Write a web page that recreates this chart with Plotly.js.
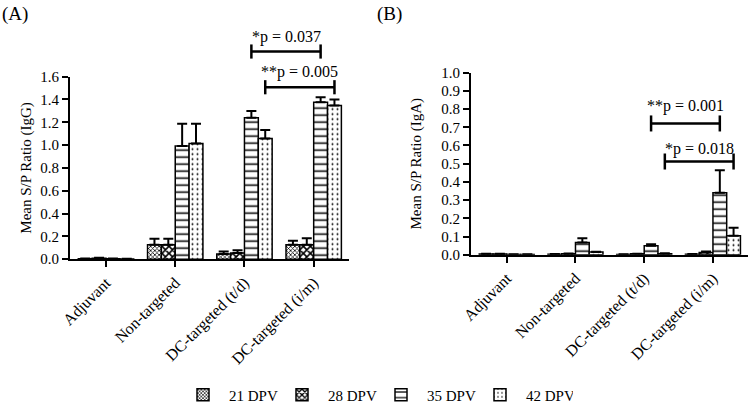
<!DOCTYPE html>
<html>
<head>
<meta charset="utf-8">
<script src="https://cdn.plot.ly/plotly-3.0.1.min.js"></script>
<style>html,body{margin:0;padding:0;background:#fff;}#chart{width:750px;height:412px;}</style>
</head>
<body>
<div id="chart"></div>
<script>
// ---- data ----
const categories = ['Adjuvant', 'Non-targeted', 'DC-targeted (t/d)', 'DC-targeted (i/m)'];
const seriesNames = ['21 DPV', '28 DPV', '35 DPV', '42 DPV'];

// Panel A: IgG mean S/P ratio and upper error (SEM)
const igg21 = [0.004, 0.127, 0.045, 0.127];
const igg28 = [0.008, 0.127, 0.055, 0.127];
const igg35 = [0.004, 0.992, 1.240, 1.376];
const igg42 = [0.003, 1.013, 1.057, 1.347];
const igg21Err = [0.002, 0.053, 0.023, 0.035];
const igg28Err = [0.004, 0.053, 0.023, 0.058];
const igg35Err = [0.002, 0.196, 0.058, 0.044];
const igg42Err = [0.001, 0.175, 0.076, 0.053];

// Panel B: IgA mean S/P ratio and upper error (SEM)
const iga21 = [0.004, 0.003, 0.002, 0.003];
const iga28 = [0.004, 0.006, 0.005, 0.012];
const iga35 = [0.002, 0.068, 0.050, 0.340];
const iga42 = [0.002, 0.015, 0.006, 0.105];
const iga21Err = [0.001, 0.001, 0.001, 0.001];
const iga28Err = [0.001, 0.001, 0.001, 0.006];
const iga35Err = [0.001, 0.022, 0.008, 0.124];
const iga42Err = [0.001, 0.002, 0.002, 0.043];

// significance brackets: category positions (index + bar offset), height and label height in data units
const bracketLabelsA = ['*p = 0.037', '**p = 0.005'];
const bracketX0A = [2.1, 2.3];
const bracketX1A = [3.1, 3.3];
const bracketYA = [1.82, 1.507];
const bracketTextYA = [1.951, 1.637];

const bracketLabelsB = ['**p = 0.001', '*p = 0.018'];
const bracketX0B = [2.1, 2.3];
const bracketX1B = [3.1, 3.3];
const bracketYB = [0.721, 0.512];
const bracketTextYB = [0.816, 0.579];

// ---- styles ----
const FONT = 'Liberation Serif, Times New Roman, serif';
const patterns = [
  {shape: 'x', size: 3, solidity: 0.45},
  {shape: 'x', size: 5, solidity: 0.55},
  {shape: '-', size: 7, solidity: 0.22},
  {shape: '.', size: 5, solidity: 0.12}
];
const catIdx = categories.map((c, i) => i);

function makeTrace(vals, errs, k, xa, ya, showleg) {
  return {
    type: 'bar',
    x: catIdx,
    y: vals,
    name: seriesNames[k],
    legendgroup: seriesNames[k],
    showlegend: showleg,
    xaxis: xa,
    yaxis: ya,
    marker: {
      color: 'white',
      line: {color: 'black', width: 1.5},
      pattern: Object.assign({fgcolor: 'black', bgcolor: 'white', fillmode: 'replace'}, patterns[k])
    },
    error_y: {
      type: 'data', symmetric: false, array: errs, arrayminus: vals.map(() => 0),
      color: 'black', thickness: 2, width: 5
    },
    hoverinfo: 'skip'
  };
}

const dataA = [[igg21, igg21Err], [igg28, igg28Err], [igg35, igg35Err], [igg42, igg42Err]];
const dataB = [[iga21, iga21Err], [iga28, iga28Err], [iga35, iga35Err], [iga42, iga42Err]];
const traces = [];
dataA.forEach((d, k) => traces.push(makeTrace(d[0], d[1], k, 'x', 'y', true)));
dataB.forEach((d, k) => traces.push(makeTrace(d[0], d[1], k, 'x2', 'y2', false)));

const W = 750, H = 412;
const shapes = [];
const annotations = [];
function addBrackets(xref, yref, ymax, x0s, x1s, ys, tys, labels, tickHalf) {
  labels.forEach((lab, i) => {
    const y = ys[i] / ymax, t = tickHalf / ymax;
    const line = {color: 'black', width: 2.5};
    shapes.push({type: 'line', xref: xref, yref: yref + ' domain', x0: x0s[i], x1: x1s[i], y0: y, y1: y, line: line});
    shapes.push({type: 'line', xref: xref, yref: yref + ' domain', x0: x0s[i], x1: x0s[i], y0: y - t, y1: y + t, line: line});
    shapes.push({type: 'line', xref: xref, yref: yref + ' domain', x0: x1s[i], x1: x1s[i], y0: y - t, y1: y + t, line: line});
    annotations.push({
      xref: xref, yref: yref + ' domain', x: (x0s[i] + x1s[i]) / 2, y: tys[i] / ymax,
      text: lab, showarrow: false, xanchor: 'center', yanchor: 'middle',
      font: {family: FONT, size: 16, color: 'black'}
    });
  });
}
addBrackets('x', 'y', 1.6, bracketX0A, bracketX1A, bracketYA, bracketTextYA, bracketLabelsA, 0.062);
addBrackets('x2', 'y2', 1.0, bracketX0B, bracketX1B, bracketYB, bracketTextYB, bracketLabelsB, 0.044);

annotations.push({xref: 'paper', yref: 'paper', x: 0, y: 1 - 14 / H, xanchor: 'left', yanchor: 'middle',
  text: '(A)', showarrow: false, font: {family: FONT, size: 19, color: 'black'}});
annotations.push({xref: 'paper', yref: 'paper', x: 375 / W, y: 1 - 14 / H, xanchor: 'left', yanchor: 'middle',
  text: '(B)', showarrow: false, font: {family: FONT, size: 19, color: 'black'}});

const tickFont = {family: FONT, size: 15, color: 'black'};
function xAxis(domain, anchor) {
  return {
    domain: domain, anchor: anchor, range: [-0.52, 3.51],
    tickmode: 'array', tickvals: catIdx, ticktext: categories, tickangle: -45,
    showline: true, linewidth: 2, linecolor: 'black',
    ticks: 'outside', ticklen: 6, tickwidth: 2, tickcolor: 'black',
    showgrid: false, zeroline: false, tickfont: {family: FONT, size: 16, color: 'black'}, fixedrange: true
  };
}
function yAxis(domain, anchor, max, dtick, title, standoff) {
  return {
    domain: domain, anchor: anchor, range: [0, max], dtick: dtick, tick0: 0, tickformat: '.1f',
    showline: true, linewidth: 2, linecolor: 'black',
    ticks: 'outside', ticklen: 6, tickwidth: 2, tickcolor: 'black',
    showgrid: false, zeroline: false, tickfont: tickFont, fixedrange: true,
    title: {text: title, font: {family: FONT, size: 15, color: 'black'}, standoff: standoff}
  };
}

const layout = {
  width: W, height: H,
  margin: {l: 0, r: 0, t: 0, b: 0},
  paper_bgcolor: 'white', plot_bgcolor: 'white',
  font: {family: FONT, color: 'black'},
  barmode: 'group', bargap: 0.2, bargroupgap: 0,
  xaxis: xAxis([70 / W, 349 / W], 'y'),
  yaxis: yAxis([1 - 260.5 / H, 1 - 77 / H], 'x', 1.6, 0.2, 'Mean S/P Ratio (IgG)', 5),
  xaxis2: xAxis([471 / W, 748 / W], 'y2'),
  yaxis2: yAxis([1 - 256 / H, 1 - 73 / H], 'x2', 1.0, 0.1, 'Mean S/P Ratio (IgA)', 16),
  showlegend: true,
  legend: {
    orientation: 'h', x: 177 / W, xanchor: 'left', y: 1 - 397 / H, yanchor: 'middle',
    font: {family: FONT, size: 15, color: 'black'}, itemwidth: 42, entrywidth: 42, entrywidthmode: 'pixels',
    bgcolor: 'rgba(0,0,0,0)', traceorder: 'normal'
  },
  shapes: shapes,
  annotations: annotations
};

Plotly.newPlot('chart', traces, layout, {staticPlot: true, displayModeBar: false});
</script>
</body>
</html>
